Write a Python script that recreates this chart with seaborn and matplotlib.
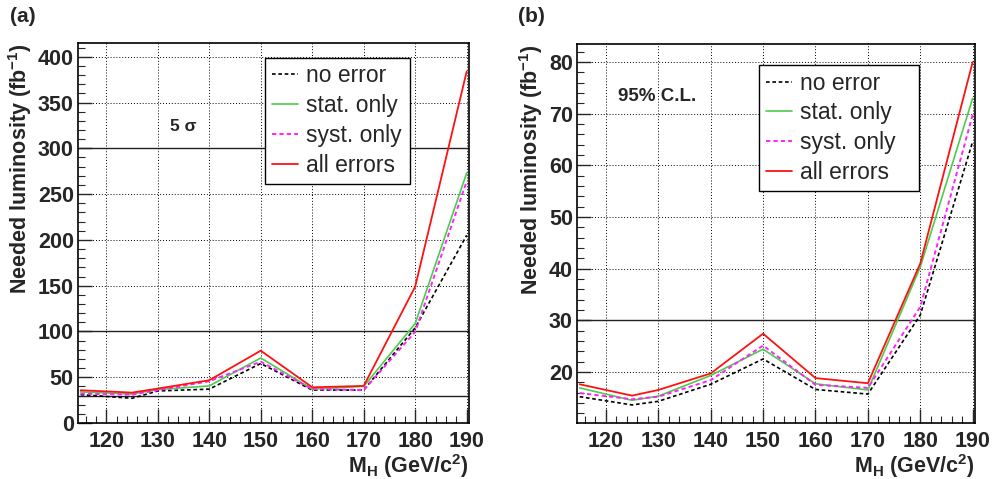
import numpy as np
import pandas as pd
import matplotlib
matplotlib.use("Agg")
import matplotlib.pyplot as plt
from matplotlib.ticker import MultipleLocator
import seaborn as sns

# ---------------- data ----------------
mass = [115, 125, 130, 140, 150, 160, 170, 180, 190]

# (a) 5 sigma discovery
a_no_error = [31, 27, 35, 37, 65, 36, 36, 104, 205]
a_stat_only = [34, 31.7, 36.5, 40.5, 71, 37, 40, 108.7, 273]
a_syst_only = [32, 31, 35.8, 45.6, 67, 37, 36, 99.6, 264]
a_all_errors = [35.8, 33.2, 37.6, 46.7, 79, 39, 40.5, 149, 384]

# (b) 95% C.L. exclusion
b_no_error = [15.2, 13.6, 14.3, 17.6, 22.5, 16.6, 15.7, 31, 64.6]
b_stat_only = [16.9, 14.5, 15.3, 19.3, 24.4, 17.7, 16.5, 40.3, 73]
b_syst_only = [15.9, 14.7, 15.2, 18.4, 25.1, 17.5, 16.9, 32.6, 69.8]
b_all_errors = [17.6, 15.4, 16.5, 19.7, 27.4, 18.8, 17.8, 41, 80]

series_names = ["no error", "stat. only", "syst. only", "all errors"]
a_ref_lines = [30, 100, 300]
b_ref_lines = [30]

# ---------------- style ----------------
sns.set_style("white")
plt.rcParams["font.family"] = ["Liberation Sans", "DejaVu Sans"]
plt.rcParams["mathtext.fontset"] = "custom"
plt.rcParams["mathtext.rm"] = "Liberation Sans"
plt.rcParams["mathtext.bf"] = "Liberation Sans:bold"
plt.rcParams["mathtext.it"] = "Liberation Sans:italic"

styles = {
    "no error": dict(color="black", ls=(0, (2.2, 1.6)), lw=1.2),
    "stat. only": dict(color="#4ccc4c", ls="-", lw=1.2),
    "syst. only": dict(color="#ff22ff", ls=(0, (2.2, 1.6)), lw=1.4),
    "all errors": dict(color="#ff1111", ls="-", lw=1.3),
}

fig = plt.figure(figsize=(9.92, 4.79), dpi=100)
ax_a = fig.add_axes([0.0786, 0.1169, 0.3942, 0.7933])
ax_b = fig.add_axes([0.5817, 0.1169, 0.4012, 0.7912])


def draw(ax, vals, ylim, ymaj, ymin, refs, leg_box):
    df = pd.DataFrame({
        "mass": np.tile(mass, 4),
        "lumi": np.concatenate([np.asarray(v, float) for v in vals]),
        "series": np.repeat(series_names, len(mass)),
    })
    for name in series_names:
        sub = df[df["series"] == name]
        st = styles[name]
        sns.lineplot(data=sub, x="mass", y="lumi", ax=ax, color=st["color"],
                     linestyle=st["ls"], linewidth=st["lw"], label=name,
                     sort=False, estimator=None, zorder=3)
    for r in refs:
        ax.axhline(r, color="#222222", lw=1.0, zorder=2)
    ax.set_xlim(114.5, 190.45)
    ax.set_ylim(*ylim)
    ax.xaxis.set_major_locator(MultipleLocator(10))
    ax.xaxis.set_minor_locator(MultipleLocator(2))
    ax.yaxis.set_major_locator(MultipleLocator(ymaj))
    ax.yaxis.set_minor_locator(MultipleLocator(ymin))
    ax.grid(True, which="major", color="black", ls=(0, (1, 2)), lw=0.7)
    ax.tick_params(which="major", direction="in", length=10, width=1.0,
                   labelsize=15.5, pad=6, top=False, right=False, bottom=True, left=True)
    ax.tick_params(which="minor", direction="in", length=5, width=0.8,
                   top=False, right=False, bottom=True, left=True)
    ax.tick_params(axis="y", which="major", pad=3)
    for lab in ax.get_xticklabels() + ax.get_yticklabels():
        lab.set_fontweight("bold")
    for sp in ax.spines.values():
        sp.set_color("black")
        sp.set_linewidth(1.2)
    ax.set_xlabel(r"M$_{\mathbf{H}}$ (GeV/c$^{\mathbf{2}}$)", fontsize=15.5,
                  fontweight="bold", loc="right", labelpad=0)
    ax.set_ylabel(r"Needed luminosity (fb$^{\mathbf{-1}}$)", fontsize=15.5,
                  fontweight="bold", loc="top", labelpad=3)
    leg = ax.legend(loc="lower left", bbox_to_anchor=leg_box, mode="expand",
                    fontsize=16.5, frameon=True, fancybox=False, handlelength=1.15,
                    handletextpad=0.35, borderpad=0.3, labelspacing=0.3,
                    borderaxespad=0)
    leg.get_frame().set_edgecolor("black")
    leg.get_frame().set_linewidth(1.0)
    leg.get_frame().set_alpha(1)
    leg.set_zorder(5)


draw(ax_a, [a_no_error, a_stat_only, a_syst_only, a_all_errors],
     (0, 415), 50, 10, a_ref_lines, (0.478, 0.629, 0.371, 0.345))
draw(ax_b, [b_no_error, b_stat_only, b_syst_only, b_all_errors],
     (10.1, 83.5), 10, 2, b_ref_lines, (0.457, 0.612, 0.402, 0.341))

ax_a.text(134.9, 324, "5 σ", fontsize=12.5, fontweight="bold", ha="center", va="center")
ax_b.text(129.8, 73.4, "95% C.L.", fontsize=13.5, fontweight="bold", ha="center", va="center")

fig.text(0.010, 0.965, "(a)", fontsize=15, fontweight="bold", ha="left", va="center")
fig.text(0.522, 0.965, "(b)", fontsize=15, fontweight="bold", ha="left", va="center")

fig.savefig("out.png", dpi=100)
